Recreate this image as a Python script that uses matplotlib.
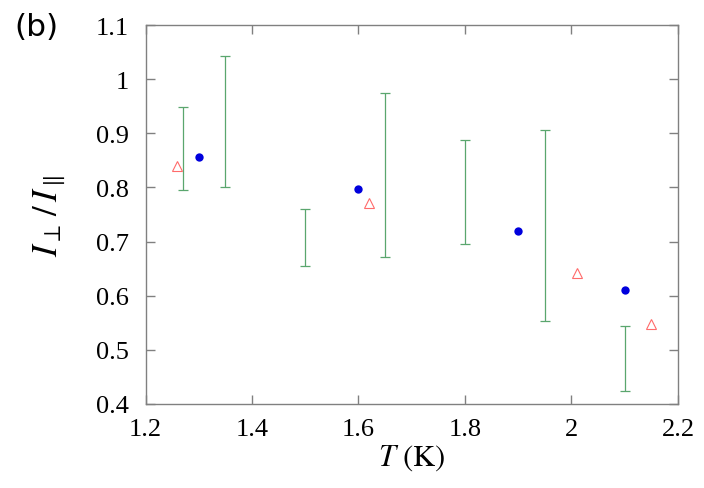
import matplotlib
matplotlib.use("Agg")
import matplotlib.pyplot as plt
import numpy as np

# Data
T_blue = [1.30, 1.60, 1.90, 2.10]
R_blue = [0.856, 0.798, 0.720, 0.611]

T_red = [1.26, 1.62, 2.01, 2.15]
R_red = [0.839, 0.771, 0.642, 0.547]

T_green = [1.27, 1.35, 1.50, 1.65, 1.80, 1.95, 2.10]
G_low = [0.795, 0.800, 0.655, 0.671, 0.695, 0.553, 0.423]
G_high = [0.948, 1.043, 0.760, 0.975, 0.887, 0.907, 0.543]

xticks = [1.2, 1.4, 1.6, 1.8, 2.0, 2.2]
xticklabels = ["1.2", "1.4", "1.6", "1.8", "2", "2.2"]
yticks = [0.4, 0.5, 0.6, 0.7, 0.8, 0.9, 1.0, 1.1]
yticklabels = ["0.4", "0.5", "0.6", "0.7", "0.8", "0.9", "1", "1.1"]

plt.rcParams['mathtext.fontset'] = 'stix'

fig = plt.figure(figsize=(7.04, 4.89), dpi=100)
ax = fig.add_axes([0.2067, 0.1724, 0.963 - 0.2067, 0.9462 - 0.1724])

lo = np.array(G_low); hi = np.array(G_high)
mid = (lo + hi) / 2
err = (hi - lo) / 2
ax.errorbar(T_green, mid, yerr=err, fmt='none', ecolor='#5aa66e',
            elinewidth=0.9, capsize=3.3, capthick=0.9)
ax.plot(T_blue, R_blue, 'o', color='#0000dd', markersize=6, markeredgewidth=0)
ax.plot(T_red, R_red, '^', markerfacecolor='none', markeredgecolor='#ff6b6b',
        markersize=7, markeredgewidth=0.8)

ax.set_xlim(1.2, 2.2)
ax.set_ylim(0.4, 1.1)
ax.set_xticks(xticks)
ax.set_xticklabels(xticklabels)
ax.set_yticks(yticks)
ax.set_yticklabels(yticklabels)

for s in ax.spines.values():
    s.set_color('#808080')
    s.set_linewidth(1.0)
ax.tick_params(direction='in', length=6.5, width=1.0, color='#808080',
               top=True, right=True, labelsize=19)
ax.tick_params(axis='x', pad=10)
ax.tick_params(axis='y', pad=12)
for lab in ax.get_xticklabels() + ax.get_yticklabels():
    lab.set_fontfamily('Liberation Serif')

ax.set_xlabel(r'$T\ \mathrm{(K)}$', fontsize=22, labelpad=2)
ax.set_ylabel(r'$I_\perp\,/\,I_\parallel$', fontsize=25, labelpad=20)

fig.text(0.021, 0.974, '(b)', fontsize=22.5, family='DejaVu Sans', va='top', ha='left')

fig.savefig('out.png', dpi=100)
